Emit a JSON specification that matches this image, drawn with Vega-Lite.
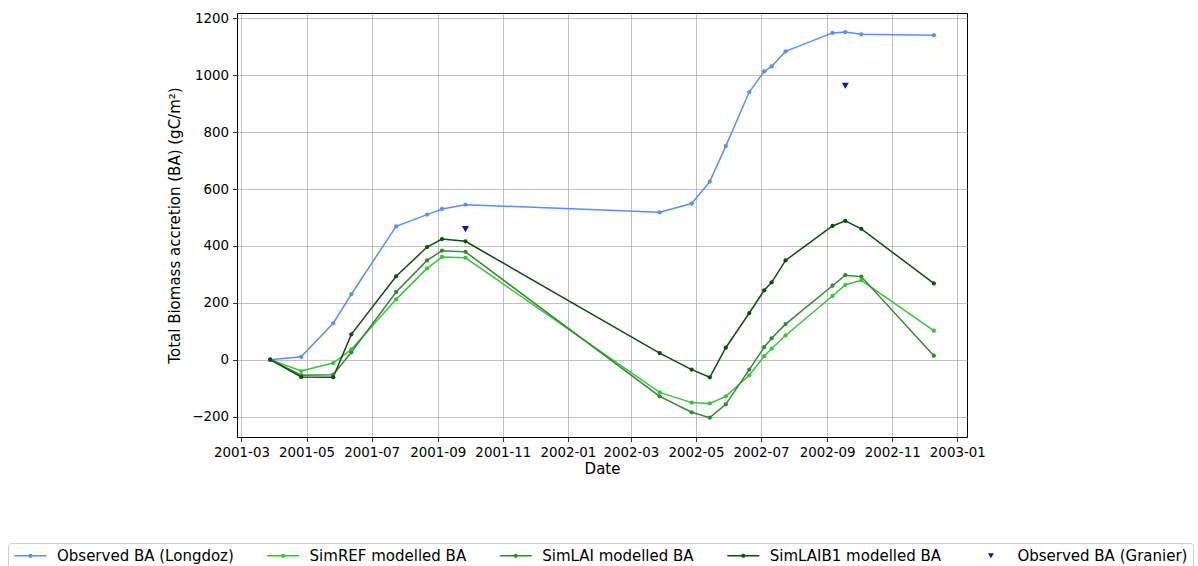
{
  "$schema": "https://vega.github.io/schema/vega-lite/v6.json",
  "width": 730,
  "height": 424,
  "autosize": {"type": "none"},
  "padding": {"left": 237, "top": 13, "right": 231, "bottom": 129},
  "background": "white",
  "config": {
    "view": {"stroke": "black", "strokeWidth": 1},
    "font": "DejaVu Sans",
    "legend": {"disable": true},
    "axis": {
      "labelFont": "DejaVu Sans", "titleFont": "DejaVu Sans",
      "labelFontSize": 13.4, "titleFontSize": 15, "titleFontWeight": "normal",
      "labelColor": "black", "titleColor": "black",
      "tickColor": "black", "tickSize": 4.5, "tickWidth": 0.8,
      "domain": false, "grid": true, "gridColor": "#b0b0b0", "gridWidth": 0.8,
      "labelPadding": 4, "labelFlush": false, "labelOverlap": false
    }
  },
  "data": {"values": [
    {"date": "2001-03-28", "series": "Observed BA (Longdoz)", "ba": 0},
    {"date": "2001-04-26", "series": "Observed BA (Longdoz)", "ba": 10},
    {"date": "2001-05-26", "series": "Observed BA (Longdoz)", "ba": 128},
    {"date": "2001-06-12", "series": "Observed BA (Longdoz)", "ba": 230},
    {"date": "2001-07-24", "series": "Observed BA (Longdoz)", "ba": 469},
    {"date": "2001-08-22", "series": "Observed BA (Longdoz)", "ba": 510},
    {"date": "2001-09-05", "series": "Observed BA (Longdoz)", "ba": 530},
    {"date": "2001-09-27", "series": "Observed BA (Longdoz)", "ba": 545},
    {"date": "2002-03-28", "series": "Observed BA (Longdoz)", "ba": 518},
    {"date": "2002-04-27", "series": "Observed BA (Longdoz)", "ba": 549},
    {"date": "2002-05-14", "series": "Observed BA (Longdoz)", "ba": 626},
    {"date": "2002-05-29", "series": "Observed BA (Longdoz)", "ba": 751},
    {"date": "2002-06-20", "series": "Observed BA (Longdoz)", "ba": 941},
    {"date": "2002-07-04", "series": "Observed BA (Longdoz)", "ba": 1014},
    {"date": "2002-07-11", "series": "Observed BA (Longdoz)", "ba": 1031},
    {"date": "2002-07-24", "series": "Observed BA (Longdoz)", "ba": 1084},
    {"date": "2002-09-06", "series": "Observed BA (Longdoz)", "ba": 1149},
    {"date": "2002-09-18", "series": "Observed BA (Longdoz)", "ba": 1152},
    {"date": "2002-10-03", "series": "Observed BA (Longdoz)", "ba": 1144},
    {"date": "2002-12-10", "series": "Observed BA (Longdoz)", "ba": 1141},

    {"date": "2001-03-28", "series": "SimREF modelled BA", "ba": 0},
    {"date": "2001-04-26", "series": "SimREF modelled BA", "ba": -40},
    {"date": "2001-05-26", "series": "SimREF modelled BA", "ba": -12},
    {"date": "2001-06-12", "series": "SimREF modelled BA", "ba": 36},
    {"date": "2001-07-24", "series": "SimREF modelled BA", "ba": 212},
    {"date": "2001-08-22", "series": "SimREF modelled BA", "ba": 321},
    {"date": "2001-09-05", "series": "SimREF modelled BA", "ba": 361},
    {"date": "2001-09-27", "series": "SimREF modelled BA", "ba": 358},
    {"date": "2002-03-28", "series": "SimREF modelled BA", "ba": -115},
    {"date": "2002-04-27", "series": "SimREF modelled BA", "ba": -151},
    {"date": "2002-05-14", "series": "SimREF modelled BA", "ba": -154},
    {"date": "2002-05-29", "series": "SimREF modelled BA", "ba": -129},
    {"date": "2002-06-20", "series": "SimREF modelled BA", "ba": -55},
    {"date": "2002-07-04", "series": "SimREF modelled BA", "ba": 12},
    {"date": "2002-07-11", "series": "SimREF modelled BA", "ba": 39},
    {"date": "2002-07-24", "series": "SimREF modelled BA", "ba": 85},
    {"date": "2002-09-06", "series": "SimREF modelled BA", "ba": 224},
    {"date": "2002-09-18", "series": "SimREF modelled BA", "ba": 263},
    {"date": "2002-10-03", "series": "SimREF modelled BA", "ba": 279},
    {"date": "2002-12-10", "series": "SimREF modelled BA", "ba": 102},

    {"date": "2001-03-28", "series": "SimLAI modelled BA", "ba": 0},
    {"date": "2001-04-26", "series": "SimLAI modelled BA", "ba": -55},
    {"date": "2001-05-26", "series": "SimLAI modelled BA", "ba": -53},
    {"date": "2001-06-12", "series": "SimLAI modelled BA", "ba": 26},
    {"date": "2001-07-24", "series": "SimLAI modelled BA", "ba": 238},
    {"date": "2001-08-22", "series": "SimLAI modelled BA", "ba": 349},
    {"date": "2001-09-05", "series": "SimLAI modelled BA", "ba": 383},
    {"date": "2001-09-27", "series": "SimLAI modelled BA", "ba": 379},
    {"date": "2002-03-28", "series": "SimLAI modelled BA", "ba": -129},
    {"date": "2002-04-27", "series": "SimLAI modelled BA", "ba": -185},
    {"date": "2002-05-14", "series": "SimLAI modelled BA", "ba": -204},
    {"date": "2002-05-29", "series": "SimLAI modelled BA", "ba": -157},
    {"date": "2002-06-20", "series": "SimLAI modelled BA", "ba": -35},
    {"date": "2002-07-04", "series": "SimLAI modelled BA", "ba": 44},
    {"date": "2002-07-11", "series": "SimLAI modelled BA", "ba": 75},
    {"date": "2002-07-24", "series": "SimLAI modelled BA", "ba": 125},
    {"date": "2002-09-06", "series": "SimLAI modelled BA", "ba": 260},
    {"date": "2002-09-18", "series": "SimLAI modelled BA", "ba": 297},
    {"date": "2002-10-03", "series": "SimLAI modelled BA", "ba": 292},
    {"date": "2002-12-10", "series": "SimLAI modelled BA", "ba": 14},

    {"date": "2001-03-28", "series": "SimLAIB1 modelled BA", "ba": 0},
    {"date": "2001-04-26", "series": "SimLAIB1 modelled BA", "ba": -61},
    {"date": "2001-05-26", "series": "SimLAIB1 modelled BA", "ba": -62},
    {"date": "2001-06-12", "series": "SimLAIB1 modelled BA", "ba": 89},
    {"date": "2001-07-24", "series": "SimLAIB1 modelled BA", "ba": 293},
    {"date": "2001-08-22", "series": "SimLAIB1 modelled BA", "ba": 396},
    {"date": "2001-09-05", "series": "SimLAIB1 modelled BA", "ba": 424},
    {"date": "2001-09-27", "series": "SimLAIB1 modelled BA", "ba": 416},
    {"date": "2002-03-28", "series": "SimLAIB1 modelled BA", "ba": 23},
    {"date": "2002-04-27", "series": "SimLAIB1 modelled BA", "ba": -35},
    {"date": "2002-05-14", "series": "SimLAIB1 modelled BA", "ba": -62},
    {"date": "2002-05-29", "series": "SimLAIB1 modelled BA", "ba": 42},
    {"date": "2002-06-20", "series": "SimLAIB1 modelled BA", "ba": 164},
    {"date": "2002-07-04", "series": "SimLAIB1 modelled BA", "ba": 244},
    {"date": "2002-07-11", "series": "SimLAIB1 modelled BA", "ba": 272},
    {"date": "2002-07-24", "series": "SimLAIB1 modelled BA", "ba": 349},
    {"date": "2002-09-06", "series": "SimLAIB1 modelled BA", "ba": 470},
    {"date": "2002-09-18", "series": "SimLAIB1 modelled BA", "ba": 488},
    {"date": "2002-10-03", "series": "SimLAIB1 modelled BA", "ba": 460},
    {"date": "2002-12-10", "series": "SimLAIB1 modelled BA", "ba": 268},

    {"date": "2001-09-27", "series": "Observed BA (Granier)", "ba": 459},
    {"date": "2002-09-18", "series": "Observed BA (Granier)", "ba": 963}
  ]},
  "encoding": {
    "x": {
      "field": "date", "type": "temporal",
      "scale": {"type": "utc", "nice": false, "domain": [
        {"year": 2001, "month": 2, "date": 24, "hours": 20, "utc": true},
        {"year": 2003, "month": 1, "date": 10, "hours": 2, "utc": true}
      ]},
      "axis": {"title": "Date", "format": "%Y-%m", "tickCount": {"interval": "month", "step": 2}, "titlePadding": 3}
    },
    "y": {
      "field": "ba", "type": "quantitative",
      "scale": {"domain": [-272, 1219], "nice": false, "zero": false},
      "axis": {"title": "Total Biomass accretion (BA) (gC/m²)", "values": [-200, 0, 200, 400, 600, 800, 1000, 1200], "format": "d", "titlePadding": 9}
    }
  },
  "layer": [
    {
      "transform": [{"filter": "false"}],
      "mark": {"type": "point", "filled": true, "size": 144, "opacity": 1},
      "encoding": {
        "color": {"field": "series", "type": "nominal",
          "scale": {"domain": ["Observed BA (Longdoz)", "SimREF modelled BA", "SimLAI modelled BA", "SimLAIB1 modelled BA", "Observed BA (Granier)"],
                    "range": ["#5a8dfa", "#3cc13c", "#338833", "#0b4f0b", "#1010c0"]},
          "legend": {"disable": false, "title": null, "orient": "none", "legendX": -229, "legendY": 530, "direction": "horizontal", "columns": 5,
            "symbolSize": 144, "symbolStrokeWidth": 0, "labelFontSize": 15, "labelFont": "DejaVu Sans", "labelColor": "black",
            "labelOffset": 29, "columnPadding": 31.6, "padding": 5, "strokeColor": "#d0d0d0", "fillColor": "white", "cornerRadius": 3, "labelLimit": 400}},
        "shape": {"field": "series", "type": "nominal",
          "scale": {"domain": ["Observed BA (Longdoz)", "SimREF modelled BA", "SimLAI modelled BA", "SimLAIB1 modelled BA", "Observed BA (Granier)"],
                    "range": [
                      "M-1,-0.125L4.333,-0.125L4.333,0.125L-1,0.125ZM1.317,0A0.35,0.35 0 1,1 2.017,0A0.35,0.35 0 1,1 1.317,0Z",
                      "M-1,-0.125L4.333,-0.125L4.333,0.125L-1,0.125ZM1.317,0A0.35,0.35 0 1,1 2.017,0A0.35,0.35 0 1,1 1.317,0Z",
                      "M-1,-0.125L4.333,-0.125L4.333,0.125L-1,0.125ZM1.317,0A0.35,0.35 0 1,1 2.017,0A0.35,0.35 0 1,1 1.317,0Z",
                      "M-1,-0.125L4.333,-0.125L4.333,0.125L-1,0.125ZM1.317,0A0.35,0.35 0 1,1 2.017,0A0.35,0.35 0 1,1 1.317,0Z",
                      "M1.167,-0.43L2.167,-0.43L1.667,0.43Z"
                    ]},
          "legend": {"disable": false, "title": null, "orient": "none", "legendX": -229, "legendY": 530, "direction": "horizontal", "columns": 5,
            "symbolSize": 144, "symbolStrokeWidth": 0, "labelFontSize": 15, "labelFont": "DejaVu Sans", "labelColor": "black",
            "labelOffset": 29, "columnPadding": 31.6, "padding": 5, "strokeColor": "#d0d0d0", "fillColor": "white", "cornerRadius": 3, "labelLimit": 400}}
      }
    },
    {
      "transform": [{"filter": "datum.series !== 'Observed BA (Granier)'"}],
      "mark": {"type": "line", "strokeWidth": 1.5},
      "encoding": {
        "color": {"field": "series", "type": "nominal"}
      }
    },
    {
      "transform": [{"filter": "datum.series !== 'Observed BA (Granier)'"}],
      "mark": {"type": "point", "shape": "circle", "filled": true, "size": 18, "opacity": 1},
      "encoding": {
        "color": {"field": "series", "type": "nominal"}
      }
    },
    {
      "transform": [{"filter": "datum.series === 'Observed BA (Granier)'"}],
      "mark": {"type": "point", "shape": "triangle-down", "filled": true, "size": 50, "opacity": 1},
      "encoding": {
        "color": {"field": "series", "type": "nominal"}
      }
    }
  ]
}
